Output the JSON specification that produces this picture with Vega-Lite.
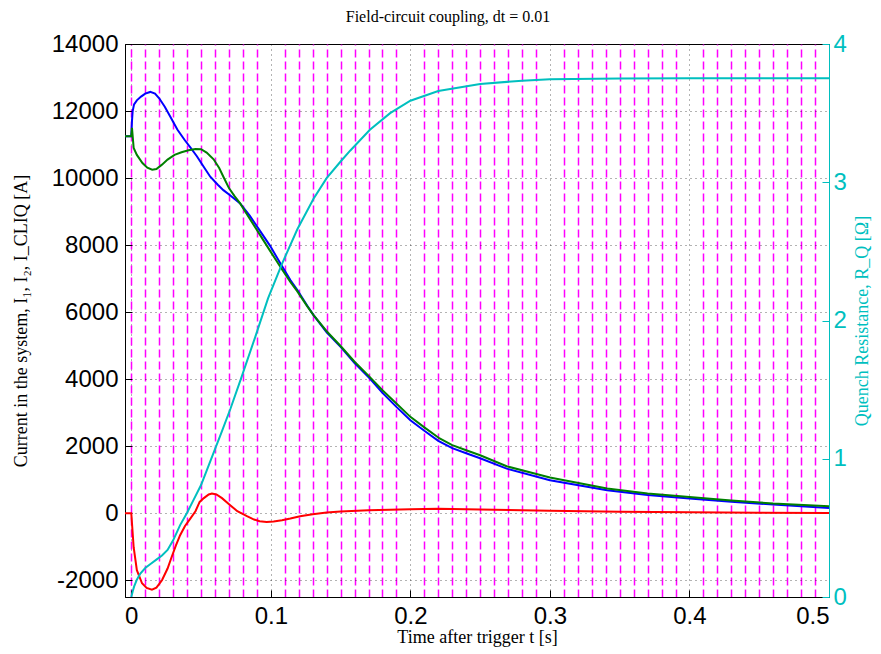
{
  "$schema": "https://vega.github.io/schema/vega-lite/v6.json",
  "width": 704,
  "height": 553,
  "autosize": {"type": "none"},
  "padding": {"left": 125, "top": 44, "right": 52, "bottom": 57},
  "background": "white",
  "config": {"view": {"stroke": "#000", "strokeWidth": 1}, "font": "Liberation Sans"},
  "title": {"text": "Field-circuit coupling, dt = 0.01", "font": "Liberation Serif", "fontSize": 16, "fontWeight": "normal", "color": "#000", "anchor": "middle", "dx": -29, "offset": 7},
  "datasets": {
    "currents": [
      {"t": -0.0045, "v": 11250, "s": "I1"}, {"t": 0, "v": 11250, "s": "I1"}, {"t": 0.0005, "v": 11700, "s": "I1"}, {"t": 0.001, "v": 12000, "s": "I1"}, {"t": 0.002, "v": 12200, "s": "I1"}, {"t": 0.004, "v": 12320, "s": "I1"}, {"t": 0.007, "v": 12430, "s": "I1"}, {"t": 0.01, "v": 12520, "s": "I1"}, {"t": 0.0136, "v": 12570, "s": "I1"}, {"t": 0.017, "v": 12520, "s": "I1"}, {"t": 0.02, "v": 12380, "s": "I1"}, {"t": 0.024, "v": 12130, "s": "I1"}, {"t": 0.028, "v": 11830, "s": "I1"}, {"t": 0.033, "v": 11450, "s": "I1"}, {"t": 0.038, "v": 11150, "s": "I1"}, {"t": 0.0423, "v": 10916, "s": "I1"}, {"t": 0.047, "v": 10650, "s": "I1"}, {"t": 0.052, "v": 10330, "s": "I1"}, {"t": 0.0566, "v": 10040, "s": "I1"}, {"t": 0.062, "v": 9800, "s": "I1"}, {"t": 0.066, "v": 9640, "s": "I1"}, {"t": 0.071, "v": 9480, "s": "I1"}, {"t": 0.078, "v": 9245, "s": "I1"}, {"t": 0.085, "v": 8870, "s": "I1"}, {"t": 0.092, "v": 8440, "s": "I1"}, {"t": 0.0996, "v": 7970, "s": "I1"}, {"t": 0.107, "v": 7440, "s": "I1"}, {"t": 0.114, "v": 6960, "s": "I1"}, {"t": 0.119, "v": 6660, "s": "I1"}, {"t": 0.126, "v": 6200, "s": "I1"}, {"t": 0.1306, "v": 5910, "s": "I1"}, {"t": 0.14, "v": 5400, "s": "I1"}, {"t": 0.15, "v": 4964, "s": "I1"}, {"t": 0.16, "v": 4480, "s": "I1"}, {"t": 0.171, "v": 4020, "s": "I1"}, {"t": 0.18, "v": 3590, "s": "I1"}, {"t": 0.19, "v": 3173, "s": "I1"}, {"t": 0.2, "v": 2776, "s": "I1"}, {"t": 0.21, "v": 2460, "s": "I1"}, {"t": 0.22, "v": 2160, "s": "I1"}, {"t": 0.23, "v": 1940, "s": "I1"}, {"t": 0.24, "v": 1790, "s": "I1"}, {"t": 0.25, "v": 1640, "s": "I1"}, {"t": 0.269, "v": 1330, "s": "I1"}, {"t": 0.3, "v": 985, "s": "I1"}, {"t": 0.341, "v": 687, "s": "I1"}, {"t": 0.37, "v": 540, "s": "I1"}, {"t": 0.4, "v": 438, "s": "I1"}, {"t": 0.43, "v": 340, "s": "I1"}, {"t": 0.46, "v": 259, "s": "I1"}, {"t": 0.5, "v": 159, "s": "I1"},
      {"t": -0.0045, "v": 11250, "s": "I2"}, {"t": 0, "v": 11250, "s": "I2"}, {"t": 0.0005, "v": 11500, "s": "I2"}, {"t": 0.0017, "v": 10900, "s": "I2"}, {"t": 0.004, "v": 10690, "s": "I2"}, {"t": 0.008, "v": 10450, "s": "I2"}, {"t": 0.0115, "v": 10310, "s": "I2"}, {"t": 0.015, "v": 10250, "s": "I2"}, {"t": 0.018, "v": 10270, "s": "I2"}, {"t": 0.022, "v": 10400, "s": "I2"}, {"t": 0.026, "v": 10550, "s": "I2"}, {"t": 0.031, "v": 10690, "s": "I2"}, {"t": 0.036, "v": 10770, "s": "I2"}, {"t": 0.041, "v": 10830, "s": "I2"}, {"t": 0.046, "v": 10870, "s": "I2"}, {"t": 0.05, "v": 10860, "s": "I2"}, {"t": 0.054, "v": 10760, "s": "I2"}, {"t": 0.059, "v": 10560, "s": "I2"}, {"t": 0.063, "v": 10300, "s": "I2"}, {"t": 0.066, "v": 10040, "s": "I2"}, {"t": 0.07, "v": 9700, "s": "I2"}, {"t": 0.074, "v": 9460, "s": "I2"}, {"t": 0.078, "v": 9245, "s": "I2"}, {"t": 0.085, "v": 8780, "s": "I2"}, {"t": 0.092, "v": 8320, "s": "I2"}, {"t": 0.0996, "v": 7820, "s": "I2"}, {"t": 0.107, "v": 7340, "s": "I2"}, {"t": 0.114, "v": 6900, "s": "I2"}, {"t": 0.119, "v": 6620, "s": "I2"}, {"t": 0.126, "v": 6180, "s": "I2"}, {"t": 0.1306, "v": 5910, "s": "I2"}, {"t": 0.14, "v": 5430, "s": "I2"}, {"t": 0.15, "v": 4990, "s": "I2"}, {"t": 0.16, "v": 4520, "s": "I2"}, {"t": 0.171, "v": 4060, "s": "I2"}, {"t": 0.18, "v": 3670, "s": "I2"}, {"t": 0.19, "v": 3274, "s": "I2"}, {"t": 0.2, "v": 2875, "s": "I2"}, {"t": 0.21, "v": 2560, "s": "I2"}, {"t": 0.221, "v": 2230, "s": "I2"}, {"t": 0.23, "v": 2030, "s": "I2"}, {"t": 0.24, "v": 1880, "s": "I2"}, {"t": 0.25, "v": 1730, "s": "I2"}, {"t": 0.269, "v": 1400, "s": "I2"}, {"t": 0.3, "v": 1066, "s": "I2"}, {"t": 0.341, "v": 736, "s": "I2"}, {"t": 0.37, "v": 590, "s": "I2"}, {"t": 0.4, "v": 487, "s": "I2"}, {"t": 0.43, "v": 380, "s": "I2"}, {"t": 0.46, "v": 289, "s": "I2"}, {"t": 0.5, "v": 209, "s": "I2"},
      {"t": -0.0045, "v": 0, "s": "ICLIQ"}, {"t": 0, "v": 0, "s": "ICLIQ"}, {"t": 0.0017, "v": -1015, "s": "ICLIQ"}, {"t": 0.004, "v": -1700, "s": "ICLIQ"}, {"t": 0.0077, "v": -2090, "s": "ICLIQ"}, {"t": 0.011, "v": -2230, "s": "ICLIQ"}, {"t": 0.0148, "v": -2280, "s": "ICLIQ"}, {"t": 0.018, "v": -2220, "s": "ICLIQ"}, {"t": 0.022, "v": -2000, "s": "ICLIQ"}, {"t": 0.026, "v": -1650, "s": "ICLIQ"}, {"t": 0.029, "v": -1300, "s": "ICLIQ"}, {"t": 0.032, "v": -960, "s": "ICLIQ"}, {"t": 0.035, "v": -657, "s": "ICLIQ"}, {"t": 0.0385, "v": -380, "s": "ICLIQ"}, {"t": 0.0423, "v": -160, "s": "ICLIQ"}, {"t": 0.046, "v": 60, "s": "ICLIQ"}, {"t": 0.049, "v": 337, "s": "ICLIQ"}, {"t": 0.052, "v": 450, "s": "ICLIQ"}, {"t": 0.0555, "v": 560, "s": "ICLIQ"}, {"t": 0.0578, "v": 588, "s": "ICLIQ"}, {"t": 0.061, "v": 560, "s": "ICLIQ"}, {"t": 0.065, "v": 450, "s": "ICLIQ"}, {"t": 0.0709, "v": 239, "s": "ICLIQ"}, {"t": 0.076, "v": 60, "s": "ICLIQ"}, {"t": 0.0829, "v": -90, "s": "ICLIQ"}, {"t": 0.088, "v": -190, "s": "ICLIQ"}, {"t": 0.092, "v": -239, "s": "ICLIQ"}, {"t": 0.097, "v": -260, "s": "ICLIQ"}, {"t": 0.102, "v": -245, "s": "ICLIQ"}, {"t": 0.108, "v": -210, "s": "ICLIQ"}, {"t": 0.114, "v": -159, "s": "ICLIQ"}, {"t": 0.121, "v": -90, "s": "ICLIQ"}, {"t": 0.13, "v": -30, "s": "ICLIQ"}, {"t": 0.14, "v": 20, "s": "ICLIQ"}, {"t": 0.15, "v": 50, "s": "ICLIQ"}, {"t": 0.17, "v": 90, "s": "ICLIQ"}, {"t": 0.2, "v": 120, "s": "ICLIQ"}, {"t": 0.22, "v": 130, "s": "ICLIQ"}, {"t": 0.25, "v": 110, "s": "ICLIQ"}, {"t": 0.3, "v": 70, "s": "ICLIQ"}, {"t": 0.35, "v": 45, "s": "ICLIQ"}, {"t": 0.4, "v": 25, "s": "ICLIQ"}, {"t": 0.45, "v": 12, "s": "ICLIQ"}, {"t": 0.5, "v": 5, "s": "ICLIQ"}
    ],
    "resistance": [
      {"t": 0, "r": 0}, {"t": 0.001, "r": 0.04}, {"t": 0.002, "r": 0.075}, {"t": 0.004, "r": 0.125}, {"t": 0.0065, "r": 0.17}, {"t": 0.01, "r": 0.21}, {"t": 0.014, "r": 0.24}, {"t": 0.018, "r": 0.27}, {"t": 0.022, "r": 0.3}, {"t": 0.026, "r": 0.34}, {"t": 0.03, "r": 0.41}, {"t": 0.035, "r": 0.52}, {"t": 0.04, "r": 0.61}, {"t": 0.045, "r": 0.71}, {"t": 0.05, "r": 0.81}, {"t": 0.055, "r": 0.94}, {"t": 0.06, "r": 1.07}, {"t": 0.065, "r": 1.2}, {"t": 0.071, "r": 1.36}, {"t": 0.079, "r": 1.59}, {"t": 0.0888, "r": 1.88}, {"t": 0.098, "r": 2.16}, {"t": 0.108, "r": 2.41}, {"t": 0.119, "r": 2.66}, {"t": 0.1306, "r": 2.88}, {"t": 0.14, "r": 3.03}, {"t": 0.15, "r": 3.15}, {"t": 0.157, "r": 3.23}, {"t": 0.171, "r": 3.38}, {"t": 0.1855, "r": 3.5}, {"t": 0.2, "r": 3.59}, {"t": 0.22, "r": 3.66}, {"t": 0.25, "r": 3.71}, {"t": 0.28, "r": 3.735}, {"t": 0.3, "r": 3.745}, {"t": 0.35, "r": 3.75}, {"t": 0.4, "r": 3.752}, {"t": 0.5, "r": 3.752}
    ]
  },
  "layer": [
    {
      "data": {"name": "currents"},
      "mark": {"type": "line", "strokeWidth": 2, "clip": true},
      "encoding": {
        "x": {
          "field": "t", "type": "quantitative",
          "scale": {"domain": [-0.0045, 0.5], "nice": false, "zero": false},
          "axis": {
            "values": [0, 0.1, 0.2, 0.3, 0.4, 0.5], "format": "~g",
            "labelFont": "Liberation Sans", "labelFontSize": 24, "labelColor": "#000", "labelPadding": 14,
            "tickColor": "#000", "tickSize": -7, "domainColor": "#000",
            "grid": true, "gridColor": "#000", "gridDash": [1, 4], "gridOpacity": 0.6,
            "title": "Time after trigger t [s]", "titleFont": "Liberation Serif", "titleFontSize": 18, "titleFontWeight": "normal", "titleColor": "#000", "titlePadding": 0
          }
        },
        "y": {
          "field": "v", "type": "quantitative",
          "scale": {"domain": [-2500, 14000], "nice": false, "zero": false},
          "axis": {
            "values": [-2000, 0, 2000, 4000, 6000, 8000, 10000, 12000, 14000],
            "labelExpr": "'' + datum.value",
            "labelFont": "Liberation Sans", "labelFontSize": 24, "labelColor": "#000", "labelPadding": 14,
            "tickColor": "#000", "tickSize": -7, "domainColor": "#000",
            "grid": true, "gridColor": "#000", "gridDash": [1, 4], "gridOpacity": 0.6,
            "title": "Current in the system, I₁, I₂, I_CLIQ [A]", "titleFont": "Liberation Serif", "titleFontSize": 18, "titleFontWeight": "normal", "titleColor": "#000", "titlePadding": 21
          }
        },
        "color": {
          "field": "s", "type": "nominal",
          "scale": {"domain": ["I1", "I2", "ICLIQ"], "range": ["#0000FF", "#008000", "#FF0000"]},
          "legend": null
        }
      }
    },
    {
      "data": {"name": "resistance"},
      "mark": {"type": "line", "strokeWidth": 2, "color": "#00BFBF", "clip": true},
      "encoding": {
        "x": {
          "field": "t", "type": "quantitative",
          "axis": {
            "values": [0, 0.01, 0.02, 0.03, 0.04, 0.05, 0.06, 0.07, 0.08, 0.09, 0.11, 0.12, 0.13, 0.14, 0.15, 0.16, 0.17, 0.18, 0.19, 0.21, 0.22, 0.23, 0.24, 0.25, 0.26, 0.27, 0.28, 0.29, 0.31, 0.32, 0.33, 0.34, 0.35, 0.36, 0.37, 0.38, 0.39, 0.41, 0.42, 0.43, 0.44, 0.45, 0.46, 0.47, 0.48, 0.49],
            "labels": false, "ticks": false, "domain": false,
            "grid": true, "gridColor": "#FF00FF", "gridDash": [8, 4], "gridWidth": 1.5,
            "title": null
          }
        },
        "y": {
          "field": "r", "type": "quantitative",
          "scale": {"domain": [0, 4], "nice": false, "zero": false},
          "axis": {
            "orient": "right", "values": [0, 1, 2, 3, 4],
            "labelFont": "Liberation Sans", "labelFontSize": 24, "labelColor": "#00BFBF", "labelPadding": 11,
            "tickColor": "#00BFBF", "tickSize": -7, "domainColor": "#00BFBF",
            "grid": false,
            "title": "Quench Resistance, R_Q [Ω]", "titleFont": "Liberation Serif", "titleFontSize": 18, "titleFontWeight": "normal", "titleColor": "#00BFBF", "titleAngle": 270, "titlePadding": 25
          }
        }
      }
    }
  ],
  "resolve": {"scale": {"y": "independent"}, "axis": {"x": "independent"}}
}
